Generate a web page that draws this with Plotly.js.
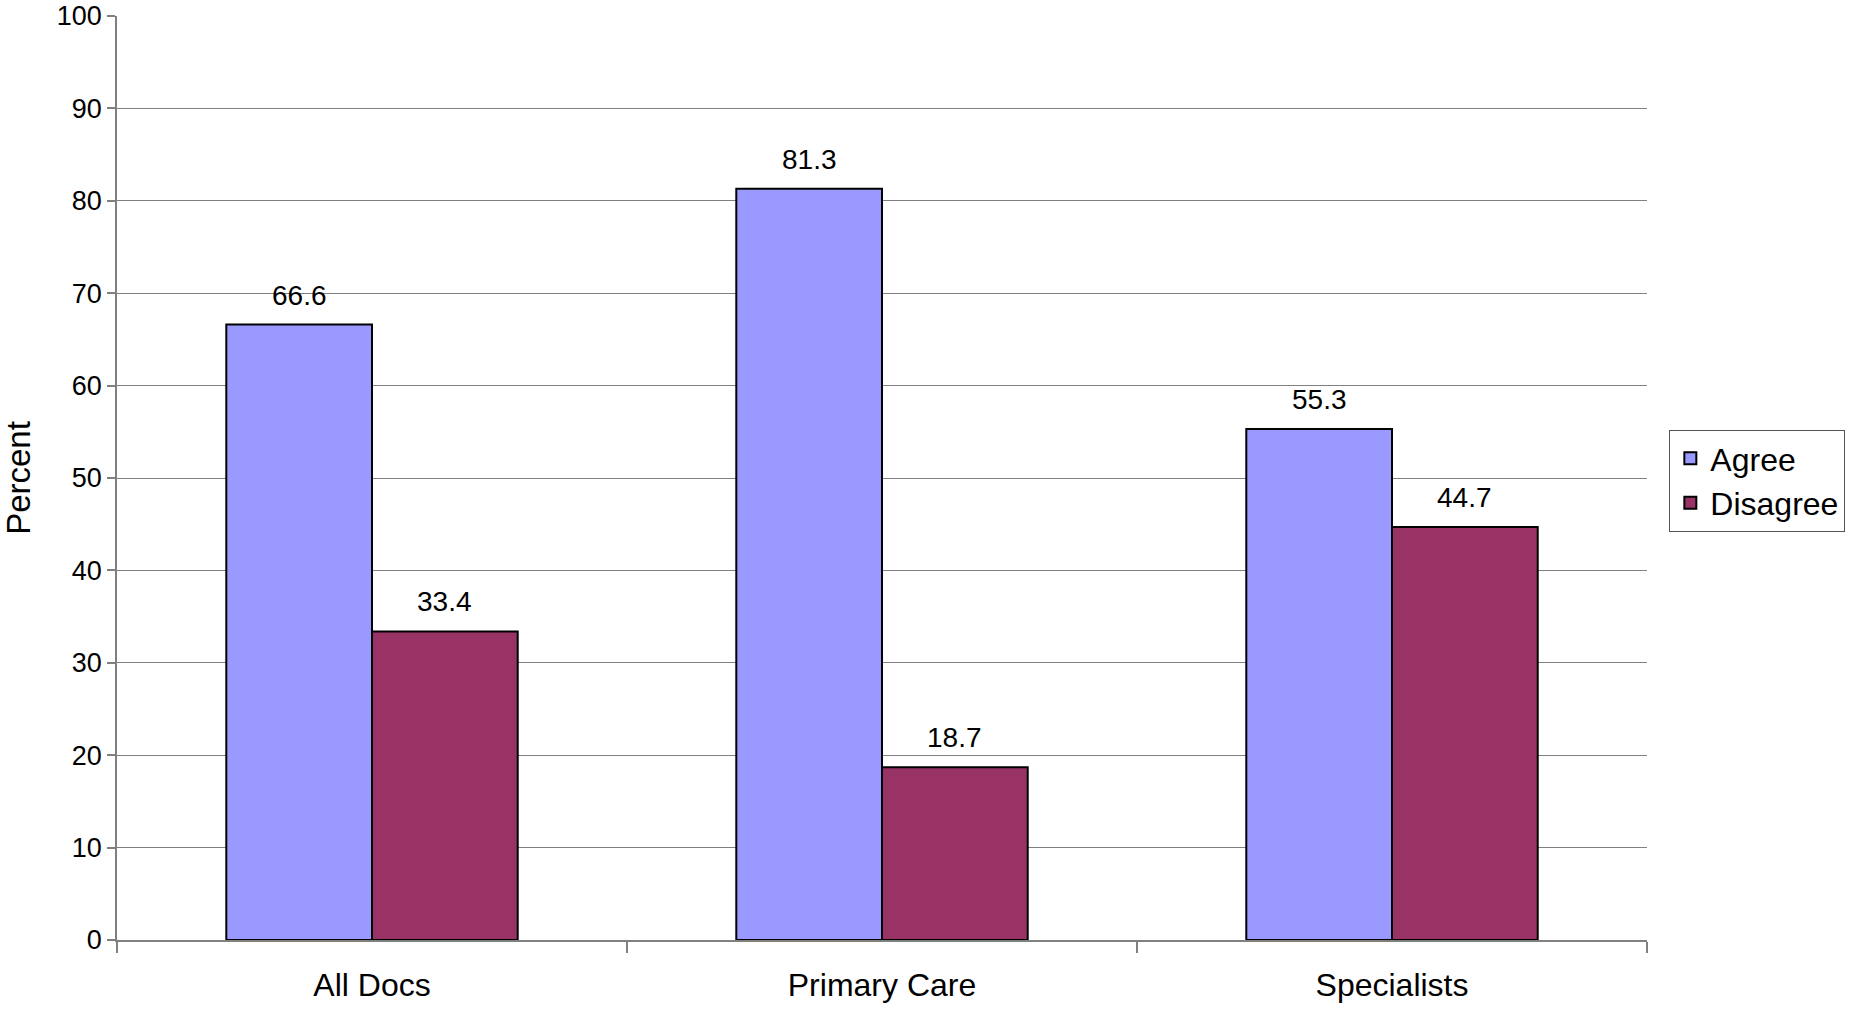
<!DOCTYPE html>
<html>
<head>
<meta charset="utf-8">
<script src="https://cdn.plot.ly/plotly-3.0.1.min.js"></script>
<style>
  html, body { margin: 0; padding: 0; background: #ffffff; }
  #chart { width: 1852px; height: 1010px; }
</style>
</head>
<body>
<div id="chart"></div>
<script>
const categories = ["All Docs", "Primary Care", "Specialists"];
const agreeValues = [66.6, 81.3, 55.3];
const disagreeValues = [33.4, 18.7, 44.7];
const seriesNames = ["Agree", "Disagree"];
const yTickValues = [0, 10, 20, 30, 40, 50, 60, 70, 80, 90, 100];

const FONT = "Liberation Sans, Arial, sans-serif";
const bargap = 0.4286;
const half = (1 - bargap) / 4;

const traces = [
  {
    type: "bar", name: seriesNames[0], x: categories, y: agreeValues,
    marker: { color: "#9999FF", line: { color: "#000000", width: 2 } },
    hoverinfo: "x+y+name"
  },
  {
    type: "bar", name: seriesNames[1], x: categories, y: disagreeValues,
    marker: { color: "#993366", line: { color: "#000000", width: 2 } },
    hoverinfo: "x+y+name"
  }
];

const annotations = [];
[agreeValues, disagreeValues].forEach((vals, s) => {
  vals.forEach((v, i) => {
    annotations.push({
      x: i + (s === 0 ? -half : half), y: v, xref: "x", yref: "y",
      text: v.toFixed(1), showarrow: false, yanchor: "bottom", yshift: 12,
      font: { family: FONT, size: 28, color: "#000000" }
    });
  });
});

const layout = {
  width: 1852, height: 1010,
  margin: { l: 116.7, r: 205.3, t: 16, b: 70, pad: 0, autoexpand: false },
  paper_bgcolor: "#ffffff", plot_bgcolor: "#ffffff",
  font: { family: FONT, color: "#000000" },
  barmode: "group", bargap: bargap, bargroupgap: 0,
  showlegend: true,
  legend: {
    x: 1.0146, xanchor: "left", y: 0.552, yanchor: "top",
    bgcolor: "#ffffff", bordercolor: "#555555", borderwidth: 1,
    font: { family: FONT, size: 32, color: "#000000" },
    tracegroupgap: 0, itemwidth: 30
  },
  xaxis: {
    type: "category", tickson: "boundaries", ticks: "outside", ticklen: 11,
    tickcolor: "#808080", tickwidth: 1.5, showline: true, linecolor: "#808080", linewidth: 1.5,
    showgrid: false, zeroline: false, ticklabelstandoff: 16,
    tickfont: { family: FONT, size: 32, color: "#000000" },
    range: [-0.5, 2.5], fixedrange: true
  },
  yaxis: {
    range: [0, 100], tickvals: yTickValues, ticktext: yTickValues.map(String),
    ticks: "outside", ticklen: 8, tickcolor: "#808080", tickwidth: 1.5,
    showline: true, linecolor: "#808080", linewidth: 1.5, ticklabeloverflow: "allow",
    showgrid: true, gridcolor: "#808080", gridwidth: 1, zeroline: false,
    tickfont: { family: FONT, size: 27, color: "#000000" },
    title: { text: "Percent", font: { family: FONT, size: 33, color: "#000000" }, standoff: 22 },
    fixedrange: true
  },
  annotations: annotations
};

Plotly.newPlot("chart", traces, layout, { displayModeBar: false, responsive: false });
</script>
</body>
</html>
